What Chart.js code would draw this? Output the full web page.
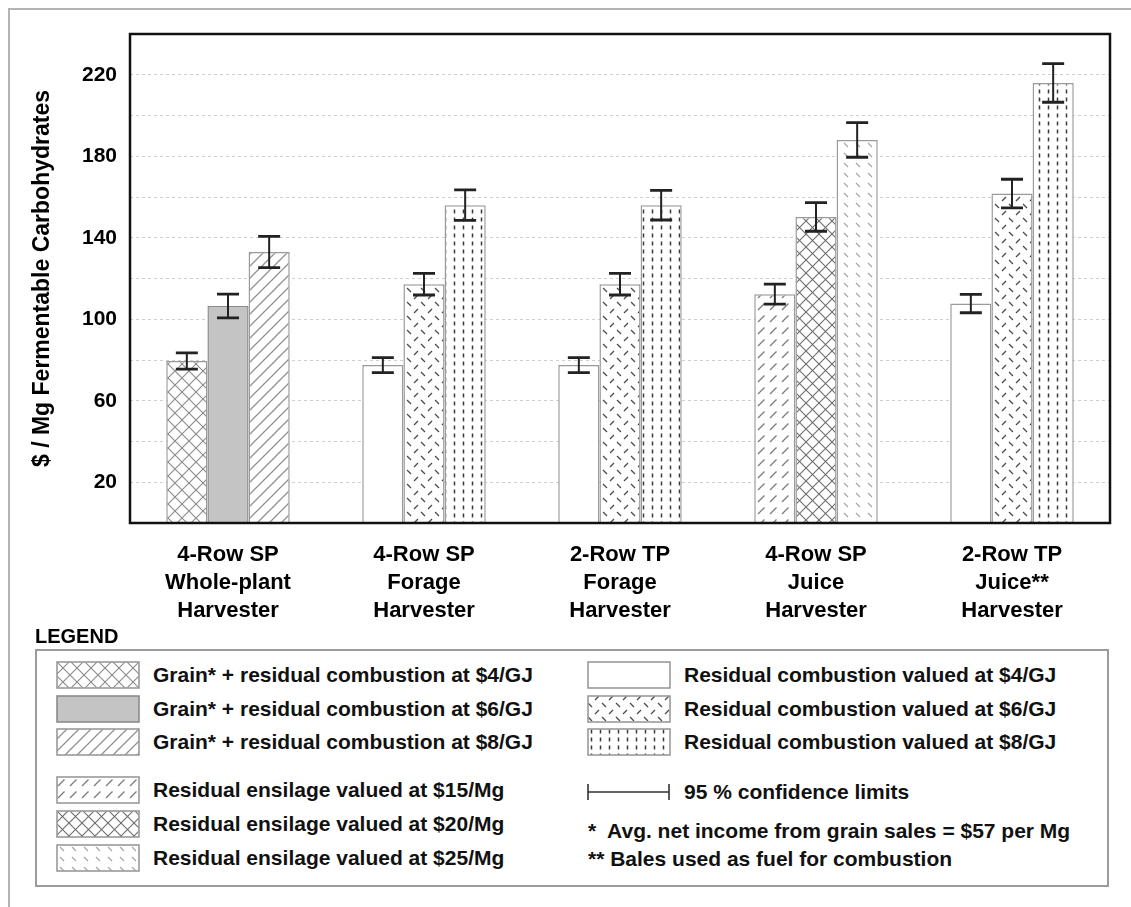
<!DOCTYPE html>
<html>
<head>
<meta charset="utf-8">
<script src="https://cdn.jsdelivr.net/npm/chart.js@4.4.1/dist/chart.umd.min.js"></script>
<style>
  html, body { margin: 0; padding: 0; background: #fff; overflow: hidden; }
  body { width: 1131px; height: 907px; position: relative; font-family: "Liberation Sans", Arial, sans-serif; color: #000; }
  #frame { position: absolute; left: 8px; top: 8px; width: 1300px; height: 1100px; border: 2px solid #b4b4b4; box-sizing: border-box; }
  #chart { position: absolute; left: 0; top: 0; }
  .lg-title { position: absolute; left: 35px; top: 624px; font-size: 20px; font-weight: bold; line-height: 24px; }
  #lg-box { position: absolute; left: 35px; top: 649px; width: 1074px; height: 238px; border: 2px solid #9c9c9c; box-sizing: border-box; }
  .sw { position: absolute; }
  .lt { position: absolute; font-size: 21px; font-weight: bold; line-height: 28px; white-space: pre; color: #111; }
</style>
</head>
<body>
<div id="frame"></div>
<canvas id="chart" width="1131" height="640"></canvas>
<div class="lg-title">LEGEND</div>
<div id="lg-box"></div>
<div id="legend"></div>
<script>
// Harvest systems (x categories, one line per array entry)
const categories = [
  ["4-Row SP", "Whole-plant", "Harvester"],
  ["4-Row SP", "Forage", "Harvester"],
  ["2-Row TP", "Forage", "Harvester"],
  ["4-Row SP", "Juice", "Harvester"],
  ["2-Row TP", "Juice**", "Harvester"]
];

// Cost in $ / Mg fermentable carbohydrates, with 95 % confidence half-widths
const grain4   = [79.5, null, null, null, null];
const grain4Ci = [4.0, null, null, null, null];
const grain6   = [106.5, null, null, null, null];
const grain6Ci = [5.8, null, null, null, null];
const grain8   = [133, null, null, null, null];
const grain8Ci = [7.7, null, null, null, null];

const resid4   = [null, 77.5, 77.5, null, 107.7];
const resid4Ci = [null, 3.7, 3.7, null, 4.5];
const resid6   = [null, 117.2, 117.2, null, 161.7];
const resid6Ci = [null, 5.3, 5.3, null, 7.0];
const resid8   = [null, 156, 156, null, 216];
const resid8Ci = [null, 7.5, 7.3, null, 9.5];

const ensil15   = [null, null, null, 112.3, null];
const ensil15Ci = [null, null, null, 4.9, null];
const ensil20   = [null, null, null, 150.2, null];
const ensil20Ci = [null, null, null, 7.0, null];
const ensil25   = [null, null, null, 188, null];
const ensil25Ci = [null, null, null, 8.5, null];

// Y axis
const yMin = 0, yMax = 240, yStep = 20;
const yLabelled = [20, 60, 100, 140, 180, 220];
const yTitle = "$ / Mg Fermentable Carbohydrates";

// Legend texts
const legendLeft = [
  "Grain* + residual combustion at $4/GJ",
  "Grain* + residual combustion at $6/GJ",
  "Grain* + residual combustion at $8/GJ",
  "Residual ensilage valued at $15/Mg",
  "Residual ensilage valued at $20/Mg",
  "Residual ensilage valued at $25/Mg"
];
const legendRight = [
  "Residual combustion valued at $4/GJ",
  "Residual combustion valued at $6/GJ",
  "Residual combustion valued at $8/GJ"
];
const ciText = "95 % confidence limits";
const footnotes = ["*  Avg. net income from grain sales = $57 per Mg", "** Bales used as fuel for combustion"];

// ---- fill patterns ----
function tile(w, h, draw) {
  const c = document.createElement('canvas');
  c.width = w; c.height = h;
  const g = c.getContext('2d');
  g.fillStyle = '#fff';
  g.fillRect(0, 0, w, h);
  draw(g, w, h);
  return c;
}
function seg(g, x1, y1, x2, y2) { g.beginPath(); g.moveTo(x1, y1); g.lineTo(x2, y2); g.stroke(); }

const tiles = {
  cross: tile(14, 14, (g, w, h) => {
    g.strokeStyle = '#8a8a8a'; g.lineWidth = 1.1;
    seg(g, -1, -1, w + 1, h + 1); seg(g, -1, h + 1, w + 1, -1);
  }),
  solid: tile(4, 4, (g, w, h) => { g.fillStyle = '#c4c4c4'; g.fillRect(0, 0, w, h); }),
  hatch: tile(12, 12, (g, w, h) => {
    g.strokeStyle = '#939393'; g.lineWidth = 1.3;
    for (const o of [-12, 0, 12]) seg(g, o - 1, h + 1, o + w + 1, -1);
  }),
  dashHatch: tile(12, 12, (g, w, h) => {
    g.strokeStyle = '#7a7a7a'; g.lineWidth = 1.2;
    seg(g, 2, 10, 8.5, 3.5);
  }),
  crossDark: tile(13, 13, (g, w, h) => {
    g.strokeStyle = '#6c6c6c'; g.lineWidth = 1.1;
    seg(g, -1, -1, w + 1, h + 1); seg(g, -1, h + 1, w + 1, -1);
  }),
  paleDash: tile(12, 10, (g, w, h) => {
    g.strokeStyle = '#a8a8a8'; g.lineWidth = 1.3;
    seg(g, 4, 3, 8, 7);
  }),
  white: tile(4, 4, () => {}),
  zigzag: tile(14, 14, (g, w, h) => {
    g.strokeStyle = '#4a4a4a'; g.lineWidth = 1.2;
    seg(g, 8, 5, 12, 1);
    seg(g, 1, 8, 5, 12);
  }),
  dots: tile(9, 8, (g, w, h) => {
    g.strokeStyle = '#3a3a3a'; g.lineWidth = 1.5;
    seg(g, 4.5, 1.5, 4.5, 5.5);
  })
};
const chartCtx = document.getElementById('chart').getContext('2d');
const pat = k => chartCtx.createPattern(tiles[k], 'repeat');

// ---- datasets ----
const series = [
  { label: legendLeft[0], data: grain4, errors: grain4Ci, fill: 'cross' },
  { label: legendLeft[1], data: grain6, errors: grain6Ci, fill: 'solid', border: '#8c8c8c' },
  { label: legendLeft[2], data: grain8, errors: grain8Ci, fill: 'hatch' },
  { label: legendRight[0], data: resid4, errors: resid4Ci, fill: 'white' },
  { label: legendRight[1], data: resid6, errors: resid6Ci, fill: 'zigzag' },
  { label: legendRight[2], data: resid8, errors: resid8Ci, fill: 'dots' },
  { label: legendLeft[3], data: ensil15, errors: ensil15Ci, fill: 'dashHatch' },
  { label: legendLeft[4], data: ensil20, errors: ensil20Ci, fill: 'crossDark' },
  { label: legendLeft[5], data: ensil25, errors: ensil25Ci, fill: 'paleDash' }
];

const errorBars = {
  id: 'errorBars',
  afterDatasetsDraw(chart) {
    const ctx = chart.ctx, ys = chart.scales.y;
    ctx.save();
    ctx.strokeStyle = '#222';
    chart.data.datasets.forEach((ds, i) => {
      const meta = chart.getDatasetMeta(i);
      meta.data.forEach((bar, j) => {
        const v = ds.data[j], e = ds.errors[j];
        if (v == null || e == null) return;
        const x = bar.x;
        const yt = ys.getPixelForValue(v + e), yb = ys.getPixelForValue(v - e);
        ctx.lineWidth = 2;
        ctx.beginPath(); ctx.moveTo(x, yt); ctx.lineTo(x, yb); ctx.stroke();
        ctx.lineWidth = 2.8;
        ctx.beginPath();
        ctx.moveTo(x - 11, yt); ctx.lineTo(x + 11, yt);
        ctx.moveTo(x - 11, yb); ctx.lineTo(x + 11, yb);
        ctx.stroke();
      });
    });
    ctx.restore();
  }
};

const plotFrame = {
  id: 'plotFrame',
  afterDraw(chart) {
    const { left, top, right, bottom } = chart.chartArea;
    const ctx = chart.ctx;
    ctx.save();
    ctx.strokeStyle = '#111';
    ctx.lineWidth = 2.5;
    ctx.strokeRect(left, top, right - left, bottom - top);
    ctx.restore();
  }
};

new Chart(chartCtx, {
  type: 'bar',
  data: {
    labels: categories,
    datasets: series.map(s => ({
      label: s.label,
      data: s.data,
      errors: s.errors,
      backgroundColor: pat(s.fill),
      borderColor: s.border || '#9a9a9a',
      borderWidth: 1.5,
      categoryPercentage: 0.63,
      barPercentage: 1.0,
      skipNull: true
    }))
  },
  options: {
    responsive: false,
    animation: false,
    events: [],
    layout: { padding: { top: 34, right: 21, left: 0, bottom: 0 } },
    plugins: { legend: { display: false }, tooltip: { enabled: false } },
    scales: {
      x: {
        grid: { display: false },
        border: { display: false },
        ticks: {
          color: '#000',
          padding: 10,
          font: { family: '"Liberation Sans", Arial, sans-serif', size: 22, weight: 'bold', lineHeight: 1.27 },
          maxRotation: 0, autoSkip: false
        },
        afterFit(scale) { scale.height = 117; }
      },
      y: {
        min: yMin, max: yMax,
        grid: { color: '#cfcfcf', lineWidth: 1, drawTicks: false },
        border: { display: false, dash: [3, 3] },
        ticks: {
          stepSize: yStep,
          padding: 13,
          color: '#000',
          font: { family: '"Liberation Sans", Arial, sans-serif', size: 21, weight: 'bold' },
          callback: v => (yLabelled.includes(v) ? String(v) : '')
        },
        title: {
          display: true,
          text: yTitle,
          color: '#000',
          padding: { top: 29, bottom: 0 },
          font: { family: '"Liberation Sans", Arial, sans-serif', size: 23, weight: 'bold', lineHeight: 1.2 }
        },
        afterFit(scale) { scale.width = 130; }
      }
    }
  },
  plugins: [errorBars, plotFrame]
});

// ---- legend ----
const legendEl = document.getElementById('legend');
function swatch(x, y, fillKey, border) {
  const c = document.createElement('canvas');
  c.width = 84; c.height = 28; c.className = 'sw';
  c.style.left = x + 'px'; c.style.top = y + 'px';
  const g = c.getContext('2d');
  g.fillStyle = g.createPattern(tiles[fillKey], 'repeat');
  g.fillRect(1, 1, 82, 26);
  g.strokeStyle = border || '#9a9a9a';
  g.lineWidth = 1.6;
  g.strokeRect(1, 1, 82, 26);
  legendEl.appendChild(c);
}
function text(x, cy, str) {
  const d = document.createElement('div');
  d.className = 'lt';
  d.textContent = str;
  d.style.left = x + 'px';
  d.style.top = (cy - 14) + 'px';
  legendEl.appendChild(d);
}
const rowTops = [661, 695, 728, 776, 810, 844];
const leftFills = ['cross', 'solid', 'hatch', 'dashHatch', 'crossDark', 'paleDash'];
legendLeft.forEach((t, i) => {
  swatch(56, rowTops[i], leftFills[i], i === 1 ? '#8c8c8c' : null);
  text(153, rowTops[i] + 14, t);
});
const rightFills = ['white', 'zigzag', 'dots'];
legendRight.forEach((t, i) => {
  swatch(587, rowTops[i], rightFills[i]);
  text(684, rowTops[i] + 14, t);
});
// confidence-limit symbol
(function () {
  const c = document.createElement('canvas');
  c.width = 86; c.height = 20; c.className = 'sw';
  c.style.left = '586px'; c.style.top = '782px';
  const g = c.getContext('2d');
  g.strokeStyle = '#333';
  g.lineWidth = 1.6;
  g.beginPath();
  g.moveTo(2, 10); g.lineTo(83, 10);
  g.moveTo(2, 2); g.lineTo(2, 18);
  g.moveTo(83, 2); g.lineTo(83, 18);
  g.stroke();
  legendEl.appendChild(c);
})();
text(684, 792, ciText);
text(588, 831, footnotes[0]);
text(588, 859, footnotes[1]);
</script>
</body>
</html>
